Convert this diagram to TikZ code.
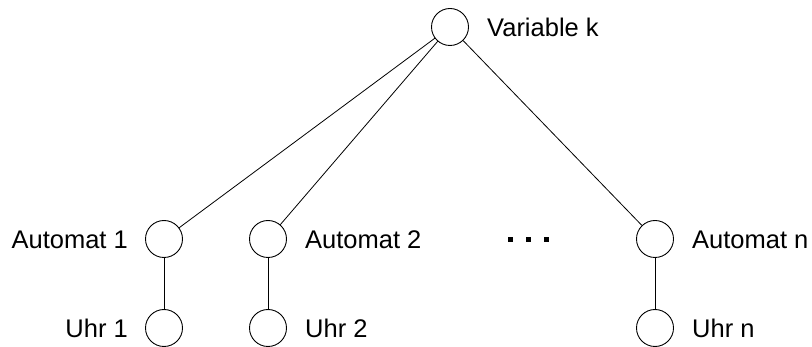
\documentclass[tikz,border=0pt]{standalone}
\usepackage{fontspec}
\setmainfont{Liberation Sans}
\begin{document}
\begin{tikzpicture}[x=1pt,y=-1pt,
  st/.style={circle,draw,line width=0.9pt,minimum size=37pt,inner sep=0pt},
  lbl/.style={font=\fontsize{25.5}{30}\selectfont,inner sep=0pt},
  dotsq/.style={fill,minimum size=5pt,inner sep=0pt},
  edge/.style={line width=0.8pt}]
\useasboundingbox (0,0) rectangle (812,347);
\node[st] (k) at (450,27) {};
\node[st] (a1) at (164,239) {};
\node[st] (a2) at (268,239) {};
\node[st] (an) at (655,239) {};
\node[st] (u1) at (164,328) {};
\node[st] (u2) at (268,328) {};
\node[st] (un) at (655,328) {};
\node[lbl,anchor=base west] (tk) at (487,37) {Variable k};
\node[lbl,anchor=base east] (ta1) at (128,249) {Automat 1};
\node[lbl,anchor=base west] (ta2) at (305,249) {Automat 2};
\node[lbl,anchor=base west] (tan) at (692,249) {Automat n};
\node[lbl,anchor=base east] (tu1) at (128,338) {Uhr 1};
\node[lbl,anchor=base west] (tu2) at (305,338) {Uhr 2};
\node[lbl,anchor=base west] (tun) at (692,338) {Uhr n};
\node[dotsq] (d1) at (510,240) {};
\node[dotsq] (d2) at (528,240) {};
\node[dotsq] (d3) at (546,240) {};
\draw[edge] (k) -- (a1);
\draw[edge] (k) -- (a2);
\draw[edge] (k) -- (an);
\draw[edge] (a1) -- (u1);
\draw[edge] (a2) -- (u2);
\draw[edge] (an) -- (un);
\end{tikzpicture}
\end{document}
